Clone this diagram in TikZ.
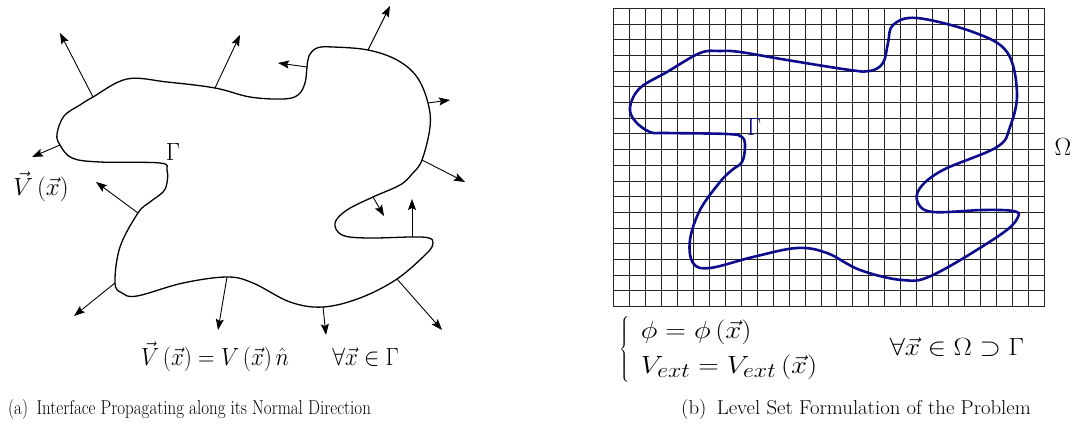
\documentclass[tikz,border=0pt]{standalone}
\usetikzlibrary{arrows.meta}
\definecolor{curveblue}{RGB}{12,12,140}
\tikzset{
  iface/.style={line width=1.3pt, line join=round},
  normal/.style={line width=0.9pt, -{Stealth[length=11pt,width=8pt,inset=2pt]}},
  gridl/.style={line width=1pt, black!85},
  lvl/.style={curveblue, line width=2.6pt, line join=round},
  mathA/.style={font=\fontsize{23.5}{28}\selectfont, inner sep=0pt},
  mathL/.style={font=\fontsize{27}{32}\selectfont, inner sep=0pt},
  mathB/.style={font=\fontsize{29}{34}\selectfont, inner sep=0pt},
  mathS/.style={font=\fontsize{30}{35}\selectfont, inner sep=0pt},
  caplbl/.style={font=\fontsize{17}{21}\selectfont, inner sep=0pt},
}
\begin{document}
\begin{tikzpicture}[x=1pt,y=-1pt]
\useasboundingbox (0,0) rectangle (1080,428);

% ---------- (a) interface ----------
\draw[iface] plot[smooth cycle, tension=0.6] coordinates {
  (127,79) (167,82) (215,88) (250,97) (283,99) (298,95) (305,83) (307,67)
  (309,56) (317,48) (333,47) (368,50) (397,60) (417,77) (428,103) (430,127)
  (422,160) (412,174) (400,185) (373,197) (347,210) (335,223) (342,235)
  (367,238) (412,237) (429,238) (433,243) (427,253) (397,279) (360,298)
  (323,307) (290,302) (253,283) (227,277) (183,283) (137,296) (122,293)
  (115,283) (120,247) (138,213) (150,202) (163,192) (167,183) (167,170)
  (160,163) (100,162) (72,158) (60,145) (57,134) (64,116) (80,105) (93,97)};

\foreach \n/\sx/\sy/\ex/\ey in {
  1/93/97/60/33, 2/215/88/240/35, 3/368/50/390/6, 4/307/67/278/63,
  5/428/103/450/100, 6/422/160/465/182, 7/373/197/384/216, 8/412/237/412/199,
  9/397/279/442/330, 10/323/307/326/335, 11/227/277/218/330, 12/115/283/74/316,
  13/138/213/96/182, 14/60/145/32/157}{
  \coordinate (s\n) at (\sx,\sy);
  \coordinate (e\n) at (\ex,\ey);
  \draw[normal] (s\n) -- (e\n);
}

\node[mathL] (gammaA) at (173,152) {$\Gamma$};
\node[mathL] (velA) at (41,187) {$\vec{V}\,(\vec{x})$};
\node[mathA] (eqA) at (270,357) {\scalebox{0.92}[1]{$\vec{V}\,(\vec{x}) = V\,(\vec{x})\,\hat{n}\qquad \forall\vec{x}\in\Gamma$}};
\node[caplbl, anchor=west] (capA) at (8,409) {\scalebox{1}[1.18]{(a)\enspace Interface Propagating along its Normal Direction}};

% ---------- (b) level set ----------
\foreach \i in {0,...,27}
  \draw[gridl] ({613.3+\i*15.977},8.3) -- ++(0,298.4);
\foreach \j in {0,...,19}
  \draw[gridl] (613.3,{8.3+\j*15.705}) -- ++(431.4,0);

\draw[lvl] plot[smooth cycle, tension=0.6] coordinates {
  (720,51) (740,52) (787,60) (850,70) (870,71) (883,63) (888,43) (893,25)
  (917,18) (973,32) (1007,52) (1017,93) (1010,127) (997,147) (943,170)
  (920,188) (918,203) (933,212) (983,210) (1013,211) (1018,217) (1000,235)
  (933,275) (902,280) (860,270) (827,253) (797,248) (753,257) (710,268)
  (693,263) (690,240) (700,210) (720,182) (732,170) (742,162) (745,147)
  (742,137) (727,134) (667,133) (650,132) (635,121) (630,107) (640,88) (667,72) (700,53)};

\node[mathB, text=curveblue] (gammaB) at (754,127) {$\Gamma$};
\node[mathB] (omega) at (1063,147) {$\Omega$};
\node[mathS, anchor=west] (sysB) at (619,349)
  {\scalebox{1.15}[1]{$\left\{\hspace{10pt}\begin{array}{@{}l}\phi = \phi\,(\vec{x})\\ V_{ext} = V_{ext}\,(\vec{x})\end{array}\right.$}};
\node[mathB] (forallB) at (957,347) {\scalebox{1.1}[1]{$\forall\vec{x}\in\Omega\supset\Gamma$}};
\node[caplbl] (capB) at (856,409) {\scalebox{1.22}[1.18]{(b)\enspace Level Set Formulation of the Problem}};
\end{tikzpicture}
\end{document}
